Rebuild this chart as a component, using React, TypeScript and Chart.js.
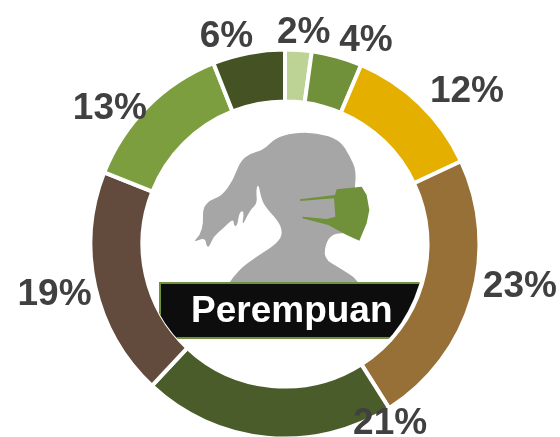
import React, { useEffect, useRef } from "react";
import { Chart, registerables } from "chart.js";

Chart.register(...registerables);

const categories = ["A", "B", "C", "D", "E", "F", "G", "H"];
const shares = [2.2, 4.2, 11.6, 23, 21, 19, 13, 6];
const shareLabels = ["2%", "4%", "12%", "23%", "21%", "19%", "13%", "6%"];
const colors = ["#BDD396", "#70913A", "#E5AF00", "#977038", "#4A5C2A", "#624B3C", "#7C9E3F", "#445224"];
const labelOffsets = [[7, -43], [36, -41], [65, -31], [73, -4], [121, 12], [-66, 14], [-56, -16], [-27, -42]];
const centerTitle = "Perempuan";

const hair: number[][] = [
  [238, 488], [265, 450], [320, 410], [375, 375], [398, 345], [390, 310], [350, 265], [335, 240], [325, 190],
  [318, 210], [322, 250], [300, 270], [275, 322], [283, 272], [268, 275], [262, 318], [252, 318], [250, 295],
  [220, 325], [190, 350], [178, 380], [170, 380], [165, 352], [128, 368], [150, 345], [160, 310], [158, 265],
  [180, 240], [215, 228], [250, 180], [270, 125], [300, 100], [340, 90], [375, 55], [430, 38], [500, 38],
  [570, 60], [600, 110], [618, 150], [615, 205], [600, 340], [555, 340], [530, 360], [520, 415], [570, 445],
  [610, 470], [625, 488],
];
const mask: number[][] = [
  [450, 238], [555, 225], [560, 208], [635, 200], [650, 225], [658, 270], [650, 310], [628, 362], [590, 345],
  [535, 315], [457, 295], [458, 290], [530, 297], [556, 290], [552, 235], [450, 243],
];

function poly(ctx: CanvasRenderingContext2D, pts: number[][]) {
  ctx.beginPath();
  pts.forEach(([x, y], i) => (i ? ctx.lineTo(x, y) : ctx.moveTo(x, y)));
  ctx.closePath();
}

function smooth(ctx: CanvasRenderingContext2D, pts: number[][]) {
  ctx.beginPath();
  ctx.moveTo(pts[0][0], pts[0][1]);
  for (let i = 1; i < pts.length - 1; i++) {
    ctx.quadraticCurveTo(pts[i][0], pts[i][1], (pts[i][0] + pts[i + 1][0]) / 2, (pts[i][1] + pts[i + 1][1]) / 2);
  }
  ctx.lineTo(pts[pts.length - 1][0], pts[pts.length - 1][1]);
  ctx.closePath();
}

const overlay = {
  id: "overlay",
  afterDatasetsDraw(chart: any) {
    const ctx: CanvasRenderingContext2D = chart.ctx;
    const meta = chart.getDatasetMeta(0);
    const first = meta.data[0];
    const cx = first.x, cy = first.y;

    ctx.save();
    ctx.translate(150, 120);
    ctx.scale(1 / 3, 1 / 3);
    ctx.fillStyle = "#A6A6A6";
    smooth(ctx, hair);
    ctx.fill();
    ctx.fillStyle = "#70913A";
    poly(ctx, mask);
    ctx.fill();
    ctx.restore();

    ctx.save();
    ctx.beginPath();
    ctx.arc(cx - 2, cy, 142, 0, Math.PI * 2);
    ctx.clip();
    ctx.fillStyle = "#0D0D0D";
    ctx.strokeStyle = "#70913A";
    ctx.lineWidth = 2;
    ctx.fillRect(160, 283, 262, 55);
    ctx.strokeRect(160, 283, 262, 55);
    ctx.restore();

    ctx.fillStyle = "#FFFFFF";
    ctx.font = "bold 37px 'Liberation Sans'";
    ctx.textAlign = "left";
    ctx.textBaseline = "alphabetic";
    ctx.fillText(centerTitle, 191, 322);

    ctx.fillStyle = "#404040";
    ctx.textAlign = "center";
    ctx.textBaseline = "middle";
    meta.data.forEach((arc: any, i: number) => {
      const mid = (arc.startAngle + arc.endAngle) / 2;
      const r = (arc.innerRadius + arc.outerRadius) / 2;
      ctx.fillText(
        shareLabels[i],
        cx + Math.cos(mid) * r + labelOffsets[i][0],
        cy + Math.sin(mid) * r + labelOffsets[i][1]
      );
    });
  },
};

export default function App() {
  const ref = useRef<HTMLCanvasElement>(null);
  useEffect(() => {
    const chart = new Chart(ref.current!, {
      type: "doughnut",
      data: {
        labels: categories,
        datasets: [{ data: shares, backgroundColor: colors, borderColor: "#FFFFFF", borderWidth: 4 }],
      },
      options: {
        animation: false,
        responsive: false,
        radius: 194.5,
        cutout: 140,
        layout: { padding: { left: 92, right: 82, top: 51, bottom: -1 } },
        plugins: { legend: { display: false }, tooltip: { enabled: false } },
      } as any,
      plugins: [overlay],
    });
    return () => chart.destroy();
  }, []);
  return (
    <canvas
      ref={ref}
      width={560}
      height={437}
      style={{ position: "absolute", left: 0, top: 0, width: 560, height: 437 }}
    />
  );
}
